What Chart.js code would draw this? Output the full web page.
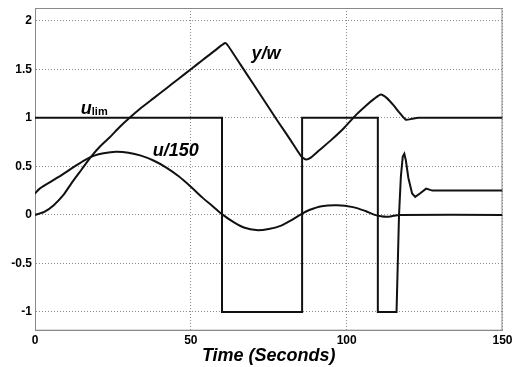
<!DOCTYPE html>
<html>
<head>
<meta charset="utf-8">
<script src="https://cdn.jsdelivr.net/npm/chart.js@4"></script>
<style>
  html, body { margin: 0; padding: 0; background: #fff; }
  canvas { display: block; }
</style>
</head>
<body>
<canvas id="simChart" width="512" height="367"></canvas>
<script>
    // Simulation traces, sampled in seconds
    const ywTime = [0, 3, 6, 9, 12, 15, 18, 21, 24, 27, 30, 34, 38, 42, 46, 50, 54, 58, 61, 62, 66, 70, 74, 78, 82, 85.5, 87, 88.5, 91, 95, 99, 103, 106, 109, 111, 113, 115, 117, 119, 121, 123, 150]
    const ywValues = [0, 0.03, 0.1, 0.2, 0.34, 0.47, 0.6, 0.71, 0.8, 0.9, 0.99, 1.1, 1.2, 1.3, 1.4, 1.5, 1.6, 1.7, 1.77, 1.74, 1.545, 1.35, 1.155, 0.96, 0.77, 0.6, 0.57, 0.59, 0.66, 0.77, 0.89, 1.03, 1.12, 1.2, 1.24, 1.2, 1.13, 1.05, 0.98, 0.99, 1.0, 1.0]

    const uTime = [0, 1.5, 5, 9, 13, 16, 19, 22, 26, 30, 34, 38, 42, 46, 50, 54, 57, 60.3, 64, 67, 71, 75, 79, 82, 85, 88, 92, 97, 102, 106, 109, 111, 113, 115, 117, 150]
    const uValues = [0.22, 0.27, 0.34, 0.42, 0.505, 0.565, 0.61, 0.635, 0.65, 0.64, 0.61, 0.56, 0.49, 0.40, 0.29, 0.17, 0.09, 0.0, -0.08, -0.13, -0.157, -0.145, -0.11, -0.06, 0.0, 0.05, 0.09, 0.10, 0.08, 0.04, 0.0, -0.015, -0.02, -0.01, 0.0, 0.0]

    const limTime = [0, 60, 60, 85.7, 85.7, 110, 110, 116, 116.8, 117.4, 118, 118.5, 119, 119.8, 121, 122, 123.5, 125.5, 127.5, 150]
    const limValues = [1, 1, -1, -1, 1, 1, -1, -1, 0.0, 0.4, 0.6, 0.63, 0.56, 0.38, 0.22, 0.185, 0.22, 0.27, 0.25, 0.25]

    const xTicks = [0, 50, 100, 150]
    const yTicks = [-1, -0.5, 0, 0.5, 1, 1.5, 2]

    const toPoints = (ts, vs) => ts.map((t, i) => ({ x: t, y: vs[i] }))

    const tickFont = { family: 'Liberation Sans, Arial, sans-serif', size: 12, weight: 'bold' }

    // grey frame around the plot area (top and right sides included)
    const frame = {
      id: 'frame',
      beforeDatasetsDraw (chart) {
        const { ctx, chartArea: a } = chart
        ctx.save()
        ctx.strokeStyle = '#8a8a8a'
        ctx.lineWidth = 1
        ctx.strokeRect(a.left + 0.5, a.top + 0.5, a.right - a.left - 1, a.bottom - a.top - 1)
        ctx.restore()
      }
    }

    // curve names written next to the traces
    const curveNames = {
      id: 'curveNames',
      afterDatasetsDraw (chart) {
        const { ctx, scales: { x, y } } = chart
        ctx.save()
        ctx.fillStyle = '#000'
        ctx.textBaseline = 'alphabetic'
        ctx.textAlign = 'left'
        ctx.font = 'italic bold 18px "Liberation Sans", Arial, sans-serif'
        ctx.fillText('y/w', x.getPixelForValue(69.5), y.getPixelForValue(1.61))
        ctx.fillText('u/150', x.getPixelForValue(37.8), y.getPixelForValue(0.605))
        const ux = x.getPixelForValue(14.7)
        const uy = y.getPixelForValue(1.04)
        ctx.fillText('u', ux, uy)
        const uw = ctx.measureText('u').width
        ctx.font = 'bold 11px "Liberation Sans", Arial, sans-serif'
        ctx.fillText('lim', ux + uw, uy + 1)
        ctx.restore()
      }
    }

    const lineStyle = { showLine: true, borderColor: '#111', borderWidth: 2, pointRadius: 0, fill: false }

    new Chart(document.getElementById('simChart').getContext('2d'), {
      type: 'scatter',
      data: {
        datasets: [
          { label: 'u_lim', data: toPoints(limTime, limValues), ...lineStyle, tension: 0 },
          { label: 'y/w', data: toPoints(ywTime, ywValues), ...lineStyle, tension: 0.2 },
          { label: 'u/150', data: toPoints(uTime, uValues), ...lineStyle, tension: 0.3 }
        ]
      },
      options: {
        responsive: false,
        animation: false,
        layout: { padding: { top: 8, right: 9.5, left: 0, bottom: 0 } },
        plugins: { legend: { display: false }, tooltip: { enabled: false } },
        scales: {
          x: {
            type: 'linear',
            min: 0,
            max: 150,
            afterBuildTicks (scale) { scale.ticks = xTicks.map(v => ({ value: v })) },
            afterFit (scale) {
              scale.height = 36.3
              scale.paddingLeft = 0
              scale.paddingRight = 0
            },
            ticks: { color: '#000', font: tickFont, padding: 3, maxRotation: 0, callback: v => String(v) },
            grid: { color: '#8a8a8a', lineWidth: 1, drawTicks: false },
            border: { display: true, color: '#8a8a8a', dash: [1, 2] },
            title: {
              display: true,
              text: 'Time (Seconds)',
              color: '#000',
              font: { family: 'Liberation Sans, Arial, sans-serif', size: 18, weight: 'bold', style: 'italic' },
              padding: { top: 0, bottom: 0 }
            }
          },
          y: {
            min: -1.193,
            max: 2.131,
            afterBuildTicks (scale) { scale.ticks = yTicks.map(v => ({ value: v })) },
            afterFit (scale) {
              scale.width = 35
              scale.paddingTop = 0
              scale.paddingBottom = 0
            },
            ticks: { color: '#000', font: tickFont, padding: 3, callback: v => String(v) },
            grid: { color: '#8a8a8a', lineWidth: 1, drawTicks: false },
            border: { display: true, color: '#8a8a8a', dash: [1, 2] }
          }
        }
      },
      plugins: [frame, curveNames]
    })
</script>
</body>
</html>
